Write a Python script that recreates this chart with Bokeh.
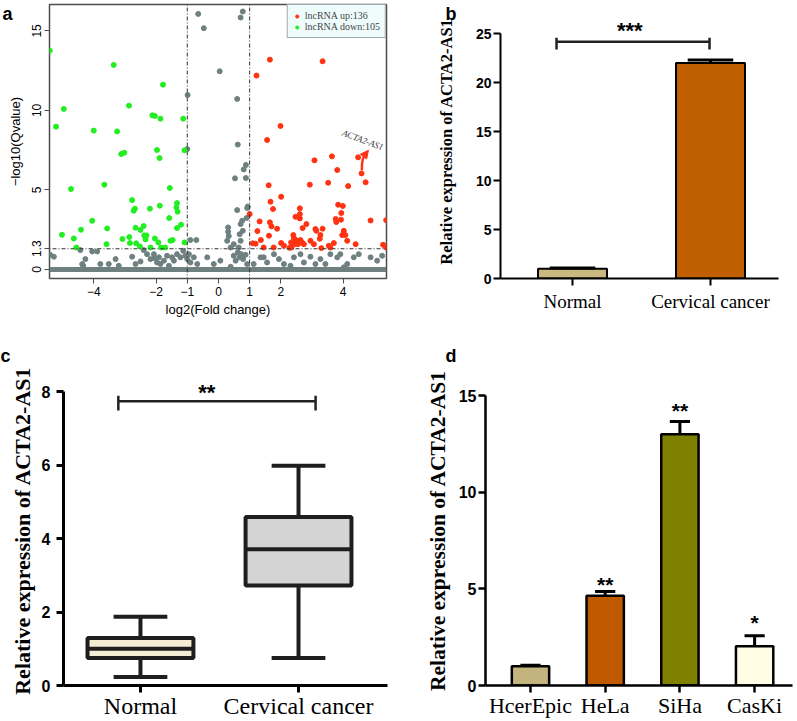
from bokeh.plotting import figure
from bokeh.layouts import row, column
from bokeh.models import (Range1d, FixedTicker, CustomJSTickFormatter, Span,
                          Legend, LegendItem, Arrow, NormalHead, GridBox)
from bokeh.core.properties import value
from bokeh.embed import file_html
from bokeh.resources import INLINE

SANS = "Liberation Sans"
SERIF = "Liberation Serif"

# ---------------- Panel a: volcano plot ----------------
down_x = [-5.41, -3.36, -1.78, -4.96, -5.21, -2.87, -4.00, -3.25, -2.12, -2.04, -1.86, -1.13,
          -1.97, -1.89, -3.12, -3.02, -1.09, -3.66, -4.73, -1.56, -2.77, -2.68, -2.72, -2.20,
          -1.88, -1.33, -1.35, -1.31, -1.58, -4.05, -4.41, -5.02, -4.64, -3.57, -2.66, -2.40,
          -2.50, -2.86, -3.08, -2.84, -2.64, -2.38, -2.31, -2.34, -2.04, -1.93, -1.54, -1.47,
          -1.33, -1.20, -1.09, -4.56, -3.59, -2.18, -1.84, -1.71, -2.52]
down_y = [13.76, 12.86, 11.62, 10.09, 8.98, 10.30, 8.73, 8.68, 9.69, 9.65, 9.48, 9.48,
          7.51, 7.00, 7.26, 7.34, 7.49, 5.33, 5.06, 5.12, 4.36, 3.82, 3.69, 3.82,
          4.01, 4.17, 3.90, 3.63, 3.23, 3.06, 2.50, 2.18, 1.95, 2.58, 2.62, 2.73,
          2.48, 2.04, 1.91, 1.66, 1.64, 2.14, 2.14, 1.89, 1.95, 1.70, 1.80, 1.85,
          2.60, 2.81, 1.70, 1.38, 1.59, 1.38, 1.38, 1.38, 1.45]

up_x = [1.65, 3.34, 1.22, 1.99, 1.56, 3.64, 4.48, 3.08, 3.81, 4.59, 4.72, 3.52, 4.16, 2.93,
        1.61, 2.01, 1.67, 1.75, 2.61, 2.61, 2.47, 2.61, 3.84, 3.99, 3.94, 3.76, 3.78, 3.93,
        1.00, 1.32, 1.65, 1.70, 1.88, 1.25, 2.82, 2.70, 3.11, 3.14, 3.34, 4.02, 4.07, 3.97,
        4.88, 5.38, 1.36, 1.62, 2.40, 2.42, 2.47, 2.52, 2.58, 2.63, 2.68, 2.55, 2.44, 2.33,
        2.74, 2.95, 3.25, 3.27, 3.06, 3.30, 3.54, 3.59, 3.70, 4.13, 4.40, 5.28, 5.38, 1.10,
        1.19, 1.45, 1.77, 2.01, 2.10, 2.28, 2.34]
up_y = [13.19, 13.09, 12.19, 9.02, 8.14, 7.11, 7.05, 6.86, 6.25, 6.04, 5.48, 5.45, 5.24, 5.33,
        5.29, 4.57, 4.26, 3.80, 3.84, 3.48, 3.31, 3.21, 4.07, 3.99, 3.55, 3.17, 2.98, 3.13,
        3.48, 3.02, 2.96, 2.71, 2.56, 2.41, 2.85, 2.60, 2.54, 2.43, 2.56, 2.43, 2.16, 2.16,
        3.08, 3.10, 1.85, 2.12, 2.16, 1.97, 1.85, 1.80, 1.74, 1.85, 1.70, 1.59, 1.59, 1.70,
        1.59, 1.80, 1.93, 2.16, 1.59, 1.34, 1.49, 1.38, 1.66, 1.80, 1.59, 1.55, 1.38, 1.64,
        1.62, 1.38, 1.38, 1.66, 1.49, 1.36, 1.38]

ns_x = [-0.65, -0.47, 0.78, 0.71, 0.04, -0.99, 0.60, 0.62, -1.00, 0.88, 0.81, 0.53, 0.88,
        0.94, 0.92, 0.60, 0.90, 0.76, 0.31, 0.31, 0.33, 0.71, 0.68, 0.71, 0.65, 0.78, 0.49,
        0.28, -0.90, -0.71, 0.39,
        -5.40, -5.28, -4.43, -4.37, -4.34, -4.27, -4.05, -3.89, -3.79, -3.52, -3.30, -3.20,
        -2.77, -2.66, -2.50, -2.40, -2.29, -2.18, -2.07, -2.05, -1.97, -1.91, -1.86, -1.75,
        -1.65, -1.59, -1.49, -1.43, -1.33, -1.22, -1.13, -1.06, -1.00, -0.95, -0.90, -0.79,
        -0.68, -0.36, -0.15, 0.06, 0.39, 0.49, 0.55, 0.62, 0.68, 0.73, 0.79, 0.87, 0.92,
        1.13, 1.35, 1.45, 1.56, 1.78, 1.94, 2.10, 2.31, 2.42, 2.63, 2.74, 2.95, 3.11, 3.27,
        3.43, 3.59, 3.81, 3.91, 4.13, 4.34, 4.50, 4.88, 5.09, 5.25, 4.02]
ns_y = [16.07, 15.17, 16.22, 15.84, 12.46, 10.97, 10.72, 7.85, 7.57, 6.57, 6.29, 5.73, 5.75,
        3.96, 3.86, 3.73, 3.23, 3.06, 2.64, 2.37, 2.10, 2.85, 2.22, 1.80, 1.38, 2.43, 1.59,
        1.80, 1.85, 1.85, 1.38,
        0.92, 0.80, 1.22, 0.34, 0.23, 0.65, 1.13, 1.13, 0.34, 0.34, 0.65, 0.23,
        0.80, 0.34, 0.50, 1.22, 0.96, 0.65, 0.96, 0.71, 0.44, 0.76, 0.34, 0.55,
        0.86, 0.23, 0.76, 0.55, 0.96, 0.76, 1.17, 0.86, 0.65, 0.96, 0.44, 0.76,
        0.34, 0.76, 0.34, 0.55, 0.17, 0.86, 0.55, 1.07, 0.76, 0.96, 0.65, 0.92, 0.34,
        0.34, 0.76, 0.76, 0.44, 0.96, 0.65, 0.34, 0.23, 0.76, 0.96, 0.44, 0.80, 0.34, 0.65,
        0.34, 0.96, 0.76, 0.96, 0.34, 0.76, 0.96, 0.76, 0.55, 0.86, 0.13]
zero_band_x = [-5.42, 5.39]      # dense band of lncRNAs with -log10(Q) ~ 0
q_cut = 1.3
fc_cuts = [-1, 1]
a_xticks = [-4, -2, -1, 0, 1, 2, 4]
a_yticks = [0, 1.3, 5, 10, 15]
up_label = "lncRNA up:136"
down_label = "lncRNA down:105"
acta2_name = "ACTA2-AS1"
acta2_point = (4.59, 6.04)
acta2_text = (4.63, 8.14)

# ---------------- Panel b ----------------
b_groups = ["Normal", "Cervical cancer"]
b_mean = [1.0, 22.0]
b_err = [0.08, 0.3]
b_colors = ["#c9b87f", "#c05f00"]
b_bracket = (-0.116, 0.993, 24.17)
b_star = (0.415, 25.8, "***")

# ---------------- Panel c ----------------
c_groups = ["Normal", "Cervical cancer"]
c_lo = [0.23, 0.75]
c_q1 = [0.75, 2.72]
c_med = [1.0, 3.71]
c_q3 = [1.29, 4.59]
c_hi = [1.87, 5.98]
c_colors = ["#f3eed3", "#d4d4d4"]
c_bracket = (-0.14, 1.108, 7.74)
c_star = (0.42, 8.1, "**")

# ---------------- Panel d ----------------
d_lines = ["HcerEpic", "HeLa", "SiHa", "CasKi"]
d_mean = [1.0, 4.65, 13.0, 2.03]
d_err = [0.05, 0.21, 0.66, 0.55]
d_colors = ["#c3b47e", "#c05a00", "#7f7f00", "#fffde4"]
d_sig = ["", "**", "**", "*"]
d_sig_y = [0, 5.46, 14.5, 3.5]

panel_letters = ["a", "b", "c", "d"]

GRAY = "#6f8080"
RED = "#ff3311"
GREEN = "#22ee22"


def base_fig(w, h, xr, yr, l, r, t, b):
    p = figure(width=w, height=h, x_range=xr, y_range=yr, output_backend="svg",
               toolbar_location=None, min_border_left=l, min_border_right=r,
               min_border_top=t, min_border_bottom=b)
    p.xgrid.visible = False
    p.ygrid.visible = False
    p.background_fill_color = "white"
    p.border_fill_color = "white"
    return p


def gp_axes(p, lw, ylab_size, ylab_std, ytick_size, xtick_size, xstd, ystd, ybounds):
    p.outline_line_color = None
    for ax in (p.xaxis[0], p.yaxis[0]):
        ax.axis_line_color = "black"
        ax.axis_line_width = lw
        ax.major_tick_line_color = "black"
        ax.major_tick_line_width = lw
        ax.major_tick_in = 0
        ax.major_tick_out = 7
        ax.minor_tick_line_color = None
        ax.major_label_text_color = "black"
    p.yaxis.bounds = ybounds
    p.yaxis.major_label_text_font = SANS
    p.yaxis.major_label_text_font_style = "bold"
    p.yaxis.major_label_text_font_size = ytick_size
    p.yaxis.major_label_standoff = ystd
    p.xaxis.major_label_text_font = SERIF
    p.xaxis.major_label_text_font_size = xtick_size
    p.xaxis.major_label_standoff = xstd
    p.yaxis.axis_label = "Relative expression of ACTA2-AS1"
    p.yaxis.axis_label_text_font = SERIF
    p.yaxis.axis_label_text_font_style = "bold"
    p.yaxis.axis_label_text_font_size = ylab_size
    p.yaxis.axis_label_standoff = ylab_std
    p.yaxis.axis_label_text_color = "black"


def stars(p, xs, ys, txts, size="22px"):
    p.text(x=xs, y=ys, text=txts, text_align="center", text_baseline="middle",
           y_offset=5, text_font=value(SANS), text_font_style="bold",
           text_font_size=size, text_color="black")


# ===== Panel a =====  (frame: x 49..386, y 4..278)
pa = base_fig(400, 330, Range1d(-5.42, 5.39), Range1d(-0.57, 16.66), 49, 14, 4, 52)
pa.outline_line_color = "#4d4d4d"
pa.outline_line_width = 1.5
pa.segment(x0=[zero_band_x[0]], y0=[0], x1=[zero_band_x[1]], y1=[0], line_width=5, line_color=GRAY)
pa.scatter(ns_x, ns_y, size=5, fill_color=GRAY, line_color=GRAY)
r_up = pa.scatter(up_x, up_y, size=5, fill_color=RED, line_color=RED)
r_dn = pa.scatter(down_x, down_y, size=5, fill_color=GREEN, line_color=GREEN)
for v in fc_cuts:
    pa.add_layout(Span(location=v, dimension="height", line_color="#333333",
                       line_dash="1 2 4 2", line_width=1))
pa.add_layout(Span(location=q_cut, dimension="width", line_color="#333333",
                   line_dash="1 2 4 2", line_width=1))
# curved red arrow pointing from the ACTA2-AS1 point towards its label
ax0, ay0 = acta2_point
pa.bezier(x0=[ax0 + 0.01], y0=[ay0 + 0.2], x1=[ax0 + 0.15], y1=[ay0 + 1.25],
          cx0=[ax0 + 0.0], cy0=[ay0 + 0.8], cx1=[ax0 + 0.05], cy1=[ay0 + 1.1],
          line_color=RED, line_width=2.5)
pa.add_layout(Arrow(end=NormalHead(size=8, fill_color=RED, line_color=RED),
                    x_start=ax0 + 0.12, y_start=ay0 + 1.2,
                    x_end=ax0 + 0.22, y_end=ay0 + 1.45,
                    line_color=RED, line_width=2.5))
pa.text(x=[acta2_text[0]], y=[acta2_text[1]], text=[acta2_name], angle=-0.36,
        text_font=value(SERIF), text_font_style="italic", text_font_size="9px",
        text_align="center", text_baseline="middle", text_color="#333333")
leg = Legend(items=[LegendItem(label=up_label, renderers=[r_up]),
                    LegendItem(label=down_label, renderers=[r_dn])],
             location="top_right", margin=0, padding=5, spacing=0, label_height=10,
             glyph_height=10, glyph_width=8, label_standoff=4, label_width=74,
             label_text_font=SERIF, label_text_font_size="10px",
             background_fill_color="#effcfc", background_fill_alpha=1.0,
             border_line_color="#555555", border_line_width=1.2)
pa.add_layout(leg)
pa.xaxis.ticker = FixedTicker(ticks=a_xticks)
pa.yaxis.ticker = FixedTicker(ticks=a_yticks)
pa.xaxis.formatter = CustomJSTickFormatter(code="return String(tick).replace('-', '\u2212')")
pa.yaxis.formatter = CustomJSTickFormatter(code="return String(tick)")
pa.yaxis.major_label_orientation = "vertical"
for ax in (pa.xaxis[0], pa.yaxis[0]):
    ax.axis_line_color = None
    ax.major_tick_line_color = "#4d4d4d"
    ax.major_tick_in = 0
    ax.major_tick_out = 5
    ax.major_label_text_font = SANS
    ax.major_label_text_font_size = "12px"
    ax.major_label_text_color = "black"
    ax.major_label_standoff = 3
    ax.axis_label_text_font = SANS
    ax.axis_label_text_font_style = "normal"
    ax.axis_label_text_font_size = "13px"
    ax.axis_label_text_color = "black"
pa.xaxis.axis_label = "log2(Fold change)"
pa.yaxis.axis_label = "\u2212log10(Qvalue)"
pa.xaxis.axis_label_standoff = 3
pa.yaxis.axis_label_standoff = 7

# ===== Panel b =====  (frame: x 500..778, y 4..278)
b_idx = list(range(len(b_groups)))
pb = base_fig(397, 330, Range1d(-0.522, 1.493), Range1d(0, 27.96), 100, 19, 4, 52)
pb.vbar(x=b_idx, top=b_mean, width=0.5, fill_color=b_colors, line_color="black", line_width=2)
b_top = [m + e for m, e in zip(b_mean, b_err)]
pb.segment(x0=b_idx, y0=b_mean, x1=b_idx, y1=b_top, line_color="black", line_width=3)
pb.segment(x0=[i - 0.165 for i in b_idx], y0=b_top, x1=[i + 0.165 for i in b_idx], y1=b_top,
           line_color="black", line_width=3)
bx0, bx1, by = b_bracket
pb.segment(x0=[bx0, bx0, bx1], y0=[by, by + 0.4, by + 0.4], x1=[bx1, bx0, bx1],
           y1=[by, by - 0.8, by - 0.8], line_color="#222222", line_width=2.5)
stars(pb, [b_star[0]], [b_star[1]], [b_star[2]])
pb.xaxis.ticker = FixedTicker(ticks=b_idx)
pb.xaxis.formatter = CustomJSTickFormatter(args=dict(labels=b_groups),
                                           code="return labels[Math.round(tick)] || ''")
pb.yaxis.ticker = FixedTicker(ticks=[0, 5, 10, 15, 20, 25])
gp_axes(pb, 2, "16.5px", 17, "14px", "19px", 5, 2, (0, 25))

# ===== Panel c =====  (frame: x 63..387, y 375..685)
c_idx = list(range(len(c_groups)))
pc = base_fig(400, 391, Range1d(-0.487, 1.563), Range1d(0, 8.44), 63, 13, 45, 36)
LC = "#1e1e1e"
pc.segment(x0=c_idx, y0=c_lo, x1=c_idx, y1=c_q1, line_color=LC, line_width=4)
pc.segment(x0=c_idx, y0=c_q3, x1=c_idx, y1=c_hi, line_color=LC, line_width=4)
for ys in (c_lo, c_hi):
    pc.segment(x0=[i - 0.17 for i in c_idx], y0=ys, x1=[i + 0.17 for i in c_idx], y1=ys,
               line_color=LC, line_width=4)
pc.vbar(x=c_idx, bottom=c_q1, top=c_q3, width=0.67, fill_color=c_colors,
        line_color=LC, line_width=4)
pc.segment(x0=[i - 0.335 for i in c_idx], y0=c_med, x1=[i + 0.335 for i in c_idx], y1=c_med,
           line_color=LC, line_width=4)
cx0, cx1, cy = c_bracket
pc.segment(x0=[cx0, cx0, cx1], y0=[cy, cy + 0.15, cy + 0.15], x1=[cx1, cx0, cx1],
           y1=[cy, cy - 0.25, cy - 0.25], line_color="#222222", line_width=2.5)
stars(pc, [c_star[0]], [c_star[1]], [c_star[2]])
pc.xaxis.ticker = FixedTicker(ticks=c_idx)
pc.xaxis.formatter = CustomJSTickFormatter(args=dict(labels=c_groups),
                                           code="return labels[Math.round(tick)] || ''")
pc.yaxis.ticker = FixedTicker(ticks=[0, 2, 4, 6, 8])
gp_axes(pc, 3, "22px", 4, "16px", "24px", 0, 6, (0, 8))

# ===== Panel d =====  (frame: x 485..792, y 375..685)
d_idx = list(range(len(d_lines)))
pd_ = base_fig(397, 391, Range1d(-0.602, 3.507), Range1d(0, 16.04), 85, 5, 45, 36)
pd_.vbar(x=d_idx, top=d_mean, width=0.5, fill_color=d_colors, line_color="black", line_width=2.5)
d_top = [m + e for m, e in zip(d_mean, d_err)]
pd_.segment(x0=d_idx, y0=d_mean, x1=d_idx, y1=d_top, line_color="black", line_width=3)
pd_.segment(x0=[i - 0.135 for i in d_idx], y0=d_top, x1=[i + 0.135 for i in d_idx], y1=d_top,
            line_color="black", line_width=3)
sig_i = [i for i, s in zip(d_idx, d_sig) if s]
stars(pd_, sig_i, [d_sig_y[i] for i in sig_i], [d_sig[i] for i in sig_i], size="21px")
pd_.xaxis.ticker = FixedTicker(ticks=d_idx)
pd_.xaxis.formatter = CustomJSTickFormatter(args=dict(labels=d_lines),
                                            code="return labels[Math.round(tick)] || ''")
pd_.yaxis.ticker = FixedTicker(ticks=[0, 5, 10, 15])
gp_axes(pd_, 2.5, "21.5px", 6, "16px", "22px", 0, 2, (0, 15))

# ===== transparent overlay carrying the panel letters =====
ov = figure(width=797, height=721, x_range=Range1d(0, 797), y_range=Range1d(721, 0),
            x_axis_type=None, y_axis_type=None, output_backend="svg", toolbar_location=None,
            min_border_left=0, min_border_right=0, min_border_top=0, min_border_bottom=0)
ov.xgrid.visible = False
ov.ygrid.visible = False
ov.outline_line_color = None
ov.background_fill_alpha = 0
ov.border_fill_alpha = 0
ov.text(x=[2, 445, 0, 445], y=[13, 13, 355, 355], text=panel_letters,
        text_font=value(SANS), text_font_style="bold", text_font_size="18px",
        text_baseline="alphabetic", text_align="left", text_color="black")

panels = column(row(pa, pb), row(pc, pd_))
layout = GridBox(children=[(panels, 0, 0), (column(ov), 0, 0)])
open("out.html", "w").write(file_html(layout, INLINE))
